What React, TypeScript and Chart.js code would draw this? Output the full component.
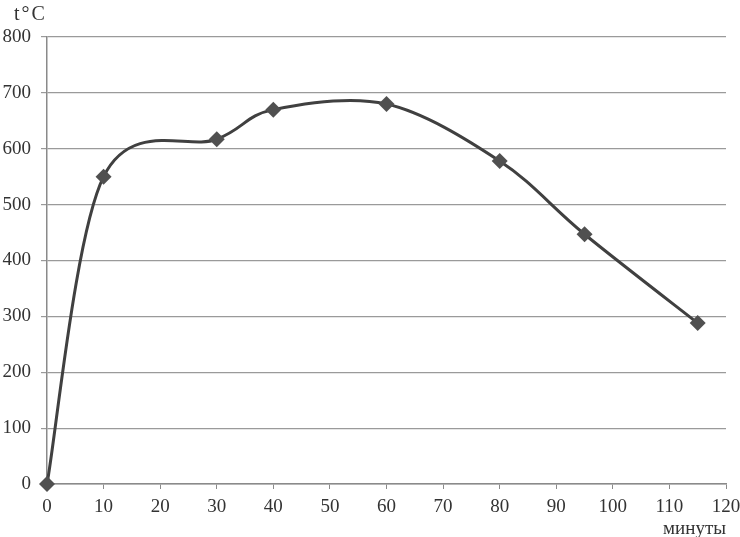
import React, { useEffect, useRef } from "react";
import { Chart, registerables } from "chart.js";

Chart.register(...registerables);

const minutes = [0, 10, 30, 40, 60, 80, 95, 115];
const temperatures = [0, 550, 617, 670, 680, 578, 447, 288];
const yAxisLabel = "t°C";
const xAxisLabel = "минуты";

const FONT = "'Liberation Serif', 'Times New Roman', serif";

export default function App() {
  const ref = useRef<HTMLCanvasElement | null>(null);

  useEffect(() => {
    if (!ref.current) return;
    // Excel-like smoothing: Catmull-Rom style control points (1/6 of neighbour difference)
    const smoothPlugin = {
      id: "excelSmooth",
      beforeDatasetDraw(chart: any, args: any) {
        const meta = args.meta;
        const pts = meta.data;
        const n = pts.length;
        for (let i = 0; i < n; i++) {
          const p = pts[i];
          const prev = pts[Math.max(0, i - 1)];
          const next = pts[Math.min(n - 1, i + 1)];
          const dx = (next.x - prev.x) / 6;
          const dy = (next.y - prev.y) / 6;
          p.cp1x = p.x - dx;
          p.cp1y = p.y - dy;
          p.cp2x = p.x + dx;
          p.cp2y = p.y + dy;
        }
        if (meta.dataset) meta.dataset._pointsUpdated = true;
      },
    };
    const textPlugin = {
      id: "axisTexts",
      afterDraw(chart: any) {
        const ctx = chart.ctx;
        const area = chart.chartArea;
        ctx.save();
        ctx.fillStyle = "#333";
        ctx.font = `20px ${FONT}`;
        ctx.textBaseline = "middle";
        ctx.textAlign = "left";
        (ctx as any).letterSpacing = "2px";
        ctx.fillText(yAxisLabel, 14, 15);
        (ctx as any).letterSpacing = "0px";
        ctx.font = `19px ${FONT}`;
        ctx.textAlign = "right";
        ctx.fillText(xAxisLabel, area.right, 529);
        ctx.restore();
      },
    };
    const chart = new Chart(ref.current, {
      type: "line",
      data: {
        datasets: [
          {
            data: minutes.map((m, i) => ({ x: m, y: temperatures[i] })),
            borderColor: "#404040",
            borderWidth: 3,
            backgroundColor: "#505050",
            pointStyle: "rectRot",
            pointRadius: 8,
            pointBorderWidth: 0,
            pointBackgroundColor: "#505050",
            tension: 0.4,
            fill: false,
            clip: false,
          },
        ],
      },
      options: {
        animation: false,
        responsive: false,
        maintainAspectRatio: false,
        layout: { padding: { left: 0, right: 14, top: 37, bottom: 0 } },
        plugins: {
          legend: { display: false },
          tooltip: { enabled: false },
        },
        scales: {
          x: {
            type: "linear",
            min: 0,
            max: 120,
            ticks: {
              stepSize: 10,
              color: "#333",
              font: { family: FONT, size: 19 },
              padding: 7,
              maxRotation: 0,
            },
            grid: {
              drawOnChartArea: false,
              drawTicks: true,
              tickLength: 5,
              color: "#8a8a8a",
            },
            border: { display: true, color: "#8a8a8a", width: 1.5 },
            afterFit(scale: any) {
              scale.height = 53;
              scale.paddingLeft = 0;
              scale.paddingRight = 0;
            },
          },
          y: {
            min: 0,
            max: 800,
            ticks: {
              stepSize: 100,
              color: "#333",
              font: { family: FONT, size: 19 },
              padding: 10,
            },
            grid: {
              color: "#9a9a9a",
              lineWidth: 1.2,
              tickLength: 6,
            },
            border: { display: true, color: "#8a8a8a", width: 1.5 },
            afterFit(scale: any) {
              scale.width = 47;
            },
          },
        },
      },
      plugins: [smoothPlugin, textPlugin],
    } as any);
    return () => chart.destroy();
  }, []);

  return (
    <div style={{ position: "fixed", left: 0, top: 0, width: 740, height: 537, background: "#fff" }}>
      <canvas ref={ref} width={740} height={537} style={{ width: 740, height: 537 }} />
    </div>
  );
}
